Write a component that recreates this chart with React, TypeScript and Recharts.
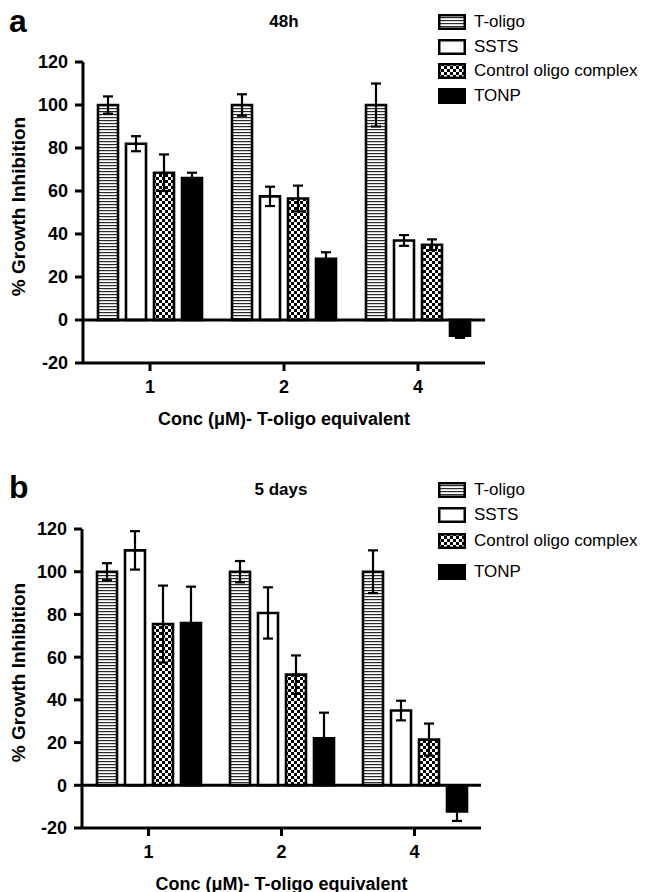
import { BarChart, Bar, XAxis, YAxis, ErrorBar, ReferenceLine, Label } from "recharts";

const FONT = "'Liberation Sans', Arial, Helvetica, sans-serif";

const categories = ["1", "2", "4"];
const seriesNames = ["T-oligo", "SSTS", "Control oligo complex", "TONP"];
const seriesKeys = ["toligo", "ssts", "control", "tonp"];
const yTicks = [-20, 0, 20, 40, 60, 80, 100, 120];

// panel a - 48h
const h48Toligo = [100, 100, 100];
const h48ToligoErr = [4, 5, 10];
const h48Ssts = [82, 57.5, 37];
const h48SstsErr = [3.5, 4.5, 2.5];
const h48Control = [68.5, 56.5, 35];
const h48ControlErr = [8.5, 6, 2.5];
const h48Tonp = [66, 28.5, -7.3];
const h48TonpErr = [2.5, 3, 1];

// panel b - 5 days
const d5Toligo = [100, 100, 100];
const d5ToligoErr = [4, 5, 10];
const d5Ssts = [110, 80.7, 35];
const d5SstsErr = [9, 12, 4.6];
const d5Control = [75.5, 51.8, 21.4];
const d5ControlErr = [18, 9, 7.5];
const d5Tonp = [76, 22, -12.2];
const d5TonpErr = [17, 12, 4.5];

const fills = ["url(#hstripes)", "#ffffff", "url(#checks)", "#000000"];

function buildRows(values: number[][], errors: number[][]) {
  return categories.map((c, i) => {
    const row: Record<string, string | number> = { conc: c };
    seriesKeys.forEach((k, j) => {
      row[k] = values[j][i];
      row[k + "Err"] = errors[j][i];
    });
    return row;
  });
}

const data48h = buildRows(
  [h48Toligo, h48Ssts, h48Control, h48Tonp],
  [h48ToligoErr, h48SstsErr, h48ControlErr, h48TonpErr]
);
const data5d = buildRows(
  [d5Toligo, d5Ssts, d5Control, d5Tonp],
  [d5ToligoErr, d5SstsErr, d5ControlErr, d5TonpErr]
);

function PatternDefs({ suffix = "" }: { suffix?: string }) {
  return (
    <defs>
      <pattern id={"hstripes" + suffix} patternUnits="userSpaceOnUse" width={6} height={3}>
        <rect x={0} y={0} width={6} height={3} fill="#ffffff" />
        <rect x={0} y={0} width={6} height={1.2} fill="#2a2a2a" />
      </pattern>
      <pattern id={"checks" + suffix} patternUnits="userSpaceOnUse" width={6} height={6}>
        <rect x={0} y={0} width={6} height={6} fill="#000000" />
        <rect x={0} y={0} width={3} height={3} fill="#ffffff" />
        <rect x={3} y={3} width={3} height={3} fill="#ffffff" />
      </pattern>
    </defs>
  );
}

function Swatch({ index }: { index: number }) {
  const fill = fills[index].startsWith("url") ? fills[index].replace(")", "L)") : fills[index];
  return (
    <svg width={28} height={16} style={{ display: "block" }}>
      <PatternDefs suffix="L" />
      <rect x={1.25} y={1.25} width={25.5} height={13.5} fill={fill} stroke="#000" strokeWidth={2.5} />
    </svg>
  );
}

type PanelProps = {
  data: Record<string, string | number>[];
  top: number;
  height: number;
  margin: { top: number; right: number; bottom: number; left: number };
  yAxisWidth: number;
  xAxisHeight: number;
  letter: string;
  letterTop: number;
  title: string;
  titleTop: number;
  titleCenter: number;
  legendTops: number[];
};

function Panel(p: PanelProps) {
  return (
    <div style={{ position: "absolute", left: 0, top: p.top, width: 646, height: p.height }}>
      <BarChart
        width={646}
        height={p.height}
        data={p.data}
        margin={p.margin}
        barCategoryGap={15}
        barGap={8}
      >
        <PatternDefs />
        <XAxis
          dataKey="conc"
          height={p.xAxisHeight}
          axisLine={{ stroke: "#000", strokeWidth: 3 }}
          tickLine={{ stroke: "#000", strokeWidth: 3 }}
          tickSize={8}
          tickMargin={9}
          tick={{ fill: "#000", fontSize: 18, fontWeight: 700, fontFamily: FONT }}
        >
          <Label
            content={(props: any) => {
              const vb = props.viewBox || {};
              return (
                <text
                  x={vb.x + vb.width / 2}
                  y={vb.y + 61.5}
                  textAnchor="middle"
                  fill="#000"
                  fontSize={18}
                  fontWeight={700}
                  fontFamily={FONT}
                >
                  Conc (μM)- T-oligo equivalent
                </text>
              );
            }}
          />
        </XAxis>
        <YAxis
          width={p.yAxisWidth}
          domain={[-20, 120]}
          ticks={yTicks}
          interval={0}
          allowDataOverflow
          axisLine={{ stroke: "#000", strokeWidth: 3 }}
          tickLine={{ stroke: "#000", strokeWidth: 3 }}
          tickSize={8}
          tickMargin={7}
          tick={{ fill: "#000", fontSize: 18, fontWeight: 700, fontFamily: FONT }}
        >
          <Label
            content={(props: any) => {
              const vb = props.viewBox || {};
              const cx = 18;
              const cy = vb.y + vb.height / 2 - 6;
              return (
                <text
                  x={cx}
                  y={cy}
                  transform={`rotate(-90, ${cx}, ${cy})`}
                  textAnchor="middle"
                  dominantBaseline="central"
                  fill="#000"
                  fontSize={19}
                  fontWeight={700}
                  fontFamily={FONT}
                >
                  % Growth Inhibition
                </text>
              );
            }}
          />
        </YAxis>
        <ReferenceLine y={0} stroke="#000" strokeWidth={3} ifOverflow="extendDomain" />
        {seriesKeys.map((k, i) => (
          <Bar
            key={k}
            dataKey={k}
            name={seriesNames[i]}
            fill={fills[i]}
            stroke="#000"
            strokeWidth={2.6}
            isAnimationActive={false}
          >
            <ErrorBar
              dataKey={k + "Err"}
              width={5}
              stroke="#000"
              strokeWidth={2.2}
              direction="y"
              isAnimationActive={false}
            />
          </Bar>
        ))}
      </BarChart>

      <div
        style={{
          position: "absolute",
          left: 9,
          top: p.letterTop,
          fontFamily: FONT,
          fontWeight: 700,
          fontSize: 32,
          lineHeight: "32px",
          color: "#000",
        }}
      >
        {p.letter}
      </div>
      <div
        style={{
          position: "absolute",
          left: p.titleCenter - 60,
          width: 120,
          textAlign: "center",
          top: p.titleTop,
          fontFamily: FONT,
          fontWeight: 700,
          fontSize: 17,
          lineHeight: "18px",
          color: "#000",
        }}
      >
        {p.title}
      </div>
      {seriesNames.map((name, i) => (
        <div
          key={name}
          style={{
            position: "absolute",
            left: 438,
            top: p.legendTops[i] - 8,
            height: 16,
            display: "flex",
            alignItems: "center",
            fontFamily: FONT,
            fontSize: 17,
            color: "#000",
            whiteSpace: "nowrap",
          }}
        >
          <Swatch index={i} />
          <span style={{ marginLeft: 8, lineHeight: "16px" }}>{name}</span>
        </div>
      ))}
    </div>
  );
}

export default function App() {
  return (
    <div
      style={{
        position: "absolute",
        left: 0,
        top: 0,
        width: 646,
        height: 892,
        background: "#ffffff",
        overflow: "hidden",
      }}
    >
      <Panel
        data={data48h}
        top={0}
        height={440}
        margin={{ top: 62, right: 161, bottom: 15, left: 0 }}
        yAxisWidth={83}
        xAxisHeight={62}
        letter="a"
        letterTop={5}
        title="48h"
        titleTop={13}
        titleCenter={284}
        legendTops={[22, 47, 71, 96]}
      />
      <Panel
        data={data5d}
        top={446}
        height={446}
        margin={{ top: 83, right: 165, bottom: 3, left: 0 }}
        yAxisWidth={82}
        xAxisHeight={61}
        letter="b"
        letterTop={25}
        title="5 days"
        titleTop={35}
        titleCenter={281}
        legendTops={[44, 69, 95, 126]}
      />
    </div>
  );
}
